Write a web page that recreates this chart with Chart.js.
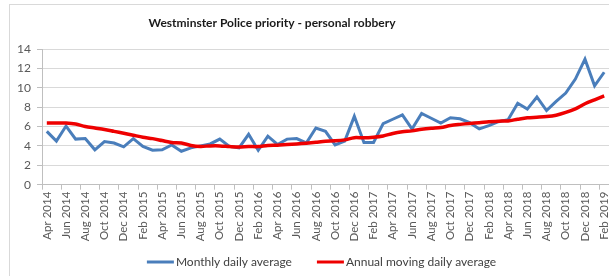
<!DOCTYPE html>
<html><head><meta charset="utf-8">
<script src="https://cdn.jsdelivr.net/npm/chart.js@4"></script>
<style>html,body{margin:0;padding:0;background:#fff;overflow:hidden}#wrap{width:609px;height:276px;position:relative}</style>
</head><body><div id="wrap"><canvas id="c" width="609" height="276"></canvas></div>
<script>
const chartTitle = 'Westminster Police priority - personal robbery';
const seriesNames = ['Monthly daily average', 'Annual moving daily average'];
const categories = [
  'Apr 2014','May 2014','Jun 2014','Jul 2014','Aug 2014','Sep 2014','Oct 2014','Nov 2014','Dec 2014',
  'Jan 2015','Feb 2015','Mar 2015','Apr 2015','May 2015','Jun 2015','Jul 2015','Aug 2015','Sep 2015','Oct 2015','Nov 2015','Dec 2015',
  'Jan 2016','Feb 2016','Mar 2016','Apr 2016','May 2016','Jun 2016','Jul 2016','Aug 2016','Sep 2016','Oct 2016','Nov 2016','Dec 2016',
  'Jan 2017','Feb 2017','Mar 2017','Apr 2017','May 2017','Jun 2017','Jul 2017','Aug 2017','Sep 2017','Oct 2017','Nov 2017','Dec 2017',
  'Jan 2018','Feb 2018','Mar 2018','Apr 2018','May 2018','Jun 2018','Jul 2018','Aug 2018','Sep 2018','Oct 2018','Nov 2018','Dec 2018',
  'Jan 2019','Feb 2019'
];
const monthlyDailyAverage = [
  5.5, 4.5, 6.05, 4.7, 4.75, 3.6, 4.45, 4.3, 3.9,
  4.75, 3.95, 3.55, 3.6, 4.1, 3.45, 3.8, 4.0, 4.2, 4.7, 3.95, 3.8,
  5.2, 3.55, 5.0, 4.15, 4.7, 4.75, 4.3, 5.85, 5.5, 4.1, 4.5, 7.05,
  4.35, 4.35, 6.3, 6.75, 7.2, 5.75, 7.35, 6.85, 6.35, 6.9, 6.8, 6.4,
  5.75, 6.1, 6.5, 6.7, 8.4, 7.8, 9.05, 7.65, 8.6, 9.45, 10.9, 12.95,
  10.2, 11.6
];
const annualMovingDailyAverage = [
  6.35, 6.35, 6.35, 6.25, 6.0, 5.85, 5.7, 5.5, 5.3,
  5.1, 4.9, 4.75, 4.55, 4.35, 4.3, 4.05, 3.95, 4.0, 4.0, 3.93, 3.88,
  3.93, 3.93, 4.05, 4.07, 4.14, 4.2, 4.28, 4.38, 4.48, 4.52, 4.62, 4.85,
  4.83, 4.9, 5.03, 5.28, 5.45, 5.55, 5.72, 5.83, 5.9, 6.1, 6.22, 6.32,
  6.4, 6.5, 6.55, 6.58, 6.75, 6.9, 6.96, 7.03, 7.17, 7.45, 7.83, 8.35,
  8.76, 9.15
];
const yTicks = [0, 2, 4, 6, 8, 10, 12, 14];

const BLUE = '#4a7ebb';
const RED = '#ee0000';
const FONT = 'Lato';

const decorPlugin = {
  id: 'decor',
  beforeDraw(chart) {
    const ctx = chart.ctx;
    ctx.save();
    ctx.strokeStyle = '#d9d9d9';
    ctx.lineWidth = 1;
    ctx.strokeRect(9.5, 4.5, 640, 300);
    ctx.restore();
  },
  afterDraw(chart) {
    const ctx = chart.ctx;
    ctx.save();
    ctx.fillStyle = '#1a1a1a';
    ctx.font = 'bold 12px ' + FONT;
    ctx.textAlign = 'center';
    ctx.textBaseline = 'middle';
    ctx.fillText(chartTitle, 272, 23);
    const items = [{t: seriesNames[0], c: BLUE}, {t: seriesNames[1], c: RED}];
    ctx.font = '12px ' + FONT;
    const lineLen = 27, textGap = 2, itemGap = 25;
    const widths = items.map(it => lineLen + textGap + ctx.measureText(it.t).width);
    const total = widths[0] + widths[1] + itemGap;
    let x = 321.5 - total / 2;
    const y = 262;
    ctx.textAlign = 'left';
    items.forEach((it, i) => {
      ctx.strokeStyle = it.c;
      ctx.lineWidth = 3;
      ctx.beginPath(); ctx.moveTo(x, y); ctx.lineTo(x + lineLen, y); ctx.stroke();
      ctx.fillStyle = '#404040';
      ctx.fillText(it.t, x + lineLen + textGap, y);
      x += widths[i] + itemGap;
    });
    ctx.restore();
  }
};

new Chart(document.getElementById('c'), {
  type: 'line',
  data: {
    labels: categories,
    datasets: [
      {label: seriesNames[0], data: monthlyDailyAverage, borderColor: BLUE, backgroundColor: BLUE, borderWidth: 3, pointRadius: 0, tension: 0, order: 2},
      {label: seriesNames[1], data: annualMovingDailyAverage, borderColor: RED, backgroundColor: RED, borderWidth: 3.5, pointRadius: 0, tension: 0.3, order: 1}
    ]
  },
  options: {
    responsive: false,
    animation: false,
    devicePixelRatio: 1,
    layout: {padding: {top: 49, right: -0.5, bottom: 32.5, left: 0}},
    plugins: {legend: {display: false}, title: {display: false}, tooltip: {enabled: false}},
    scales: {
      x: {
        type: 'category',
        offset: true,
        afterFit: s => { s.paddingRight = 0; s.paddingLeft = 0; },
        grid: {offset: true, drawOnChartArea: false, drawTicks: true, tickLength: 5,
          tickColor: c => (c.index % 2 === 0 ? '#bfbfbf' : 'rgba(0,0,0,0)')},
        border: {display: true, color: '#bfbfbf', width: 1},
        ticks: {autoSkip: false, minRotation: 90, maxRotation: 90, padding: 2, color: '#595959',
          font: {family: FONT, size: 11.5},
          callback: (v, i) => (i % 2 === 0 ? categories[i] : '')}
      },
      y: {
        min: 0, max: 14,
        afterFit: s => { s.width = 42; },
        afterBuildTicks: s => { s.ticks = yTicks.map(v => ({value: v})); },
        grid: {color: '#d9d9d9', tickLength: 5, tickColor: '#bfbfbf'},
        border: {display: true, color: '#bfbfbf', width: 1},
        ticks: {padding: 6, color: '#595959', font: {family: FONT, size: 12}}
      }
    }
  },
  plugins: [decorPlugin]
});
</script>
</body></html>
